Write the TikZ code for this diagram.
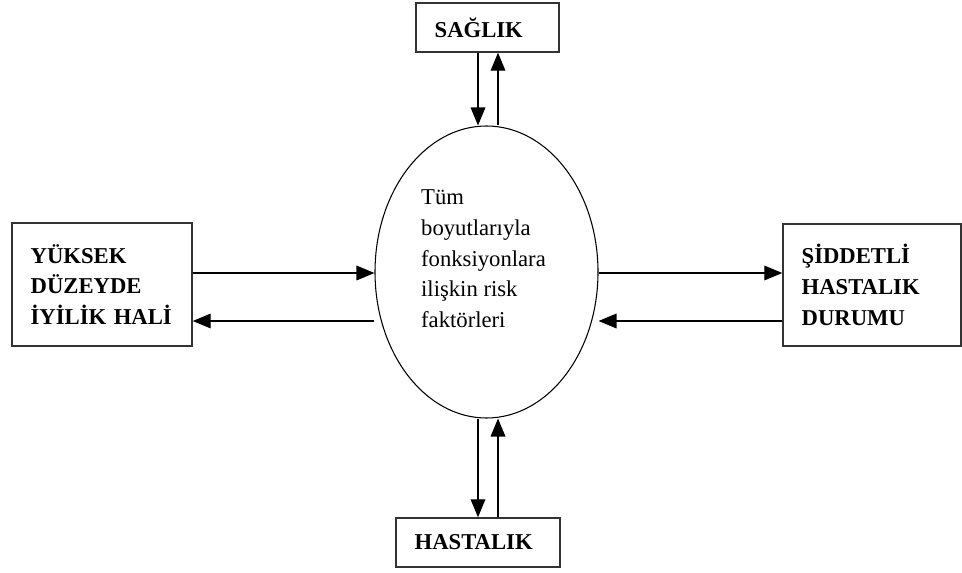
\documentclass[tikz,border=0pt]{standalone}
\usepackage{fontspec}
\setmainfont{Liberation Serif}
\usepackage{tikz}
\usetikzlibrary{shapes.geometric,arrows.meta}

\tikzset{
    kutu/.style={draw=black!80, line width=1.1pt, font=\bfseries\fontsize{17}{23}\selectfont,
        align=left, inner xsep=14pt, inner ysep=0pt},
    ok/.style={-{Triangle[length=13.5pt,width=11pt]}, line width=0.9pt},
}

\begin{document}
\begin{tikzpicture}[x=0.75pt,y=0.75pt,yscale=-1,xscale=1]
            \useasboundingbox (0,0) rectangle (962,573); %set diagram to 962 x 573
            %Shape: Ellipse
            \node [draw, ellipse, line width=0.8pt, minimum width=167.25pt, minimum height=219pt, inner sep=0pt] (risk) at (486.5,272) {};
            % Text Node
            \node [align=left, inner sep=0pt, font=\fontsize{17}{23}\selectfont] (metin) at (483.5,259)
                {Tüm\\boyutlarıyla\\fonksiyonlara\\ilişkin risk\\faktörleri};
            %Shape: Rectangle
            \node [kutu, text width=79.25pt, minimum height=36.75pt] (sag) at (487.5,27.5) {SAĞLIK};
            \node [kutu, text width=95pt, minimum height=36.75pt] (has) at (478,542.5) {HASTALIK};
            \node [kutu, text width=107pt, minimum height=92.25pt] (yuk) at (102,284.5) {YÜKSEK\\DÜZEYDE\\İYİLİK HALİ};
            \node [kutu, text width=105.5pt, minimum height=91.5pt] (sid) at (872,285) {ŞİDDETLİ\\HASTALIK\\DURUMU};
            %Straight Lines
            \draw [ok] (sag.south -| 478,0) -- (risk.north -| 478,0);
            \draw [ok] (risk.north -| 498,0) -- (sag.south -| 498,0);
            \draw [ok] (risk.south -| 478,0) -- (has.north -| 478,0);
            \draw [ok] (has.north -| 498,0) -- (risk.south -| 498,0);
            \draw [ok] (yuk.east |- 0,273) -- (risk.west |- 0,273);
            \draw [ok] (risk.west |- 0,321) -- (yuk.east |- 0,321);
            \draw [ok] (risk.east |- 0,273) -- (sid.west |- 0,273);
            \draw [ok] (sid.west |- 0,321) -- (risk.east |- 0,321);
\end{tikzpicture}
\end{document}
